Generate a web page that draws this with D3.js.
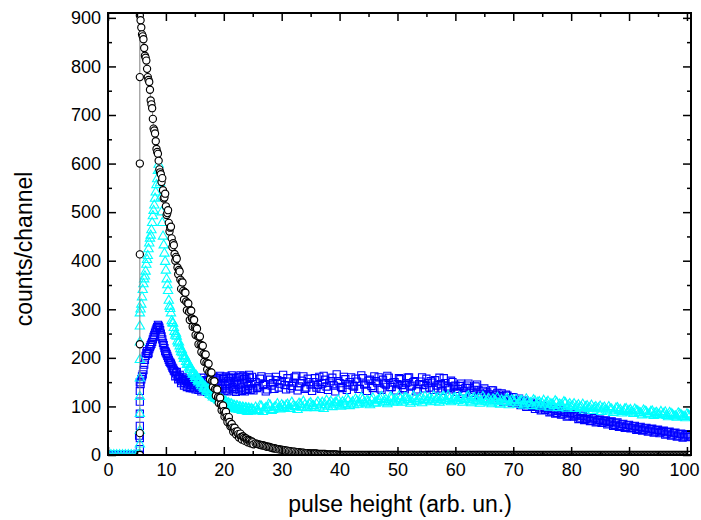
<!DOCTYPE html>
<html>
<head>
<meta charset="utf-8">
<script src="https://cdn.jsdelivr.net/npm/d3@7"></script>
<style>
  body { margin: 0; background: #fff; }
  svg { display: block; font-family: 'Liberation Sans', Arial, sans-serif; }
</style>
</head>
<body>
<svg width="701" height="520"></svg>
<script>
// pulse height spectra, three detectors

// channel positions (arb. un.)
var chLow = [0, 0.5, 1, 1.5, 2, 2.5, 3, 3.5, 4, 4.5, 5];
var chPeak = [5.25, 5.5, 5.75, 6, 6.25, 6.5, 6.75, 7, 7.25, 7.5, 7.75, 8, 8.25, 8.5, 8.75, 9,
  9.25, 9.5, 9.75, 10, 10.25, 10.5, 10.75, 11, 11.25, 11.5, 11.75, 12, 12.25, 12.5, 12.75, 13,
  13.25, 13.5, 13.75, 14, 14.25, 14.5, 14.75, 15, 15.25, 15.5, 15.75, 16, 16.25, 16.5, 16.75, 17,
  17.25, 17.5, 17.75, 18, 18.25, 18.5, 18.75, 19, 19.25, 19.5, 19.75, 20, 20.25, 20.5, 20.75, 21,
  21.25, 21.5, 21.75, 22, 22.25, 22.5, 22.75, 23, 23.25, 23.5, 23.75, 24, 24.25, 24.5, 24.75, 25];
var chPeakMid = [5.375, 5.625, 5.875, 6.125, 6.375, 6.625, 6.875, 7.125, 7.375, 7.625, 7.875, 8.125,
  8.375, 8.625, 8.875, 9.125, 9.375, 9.625, 9.875, 10.125, 10.375, 10.625, 10.875, 11.125,
  11.375, 11.625, 11.875, 12.125, 12.375, 12.625, 12.875, 13.125, 13.375, 13.625, 13.875, 14.125,
  14.375, 14.625, 14.875, 15.125, 15.375, 15.625, 15.875, 16.125, 16.375, 16.625, 16.875, 17.125,
  17.375, 17.625, 17.875, 18.125, 18.375, 18.625, 18.875, 19.125, 19.375, 19.625, 19.875, 20.125,
  20.375, 20.625, 20.875, 21.125, 21.375, 21.625, 21.875, 22.125, 22.375, 22.625, 22.875, 23.125,
  23.375, 23.625, 23.875, 24.125, 24.375, 24.625, 24.875, 25.125];
var chTail = [25.5, 26, 26.5, 27, 27.5, 28, 28.5, 29, 29.5, 30,
  30.5, 31, 31.5, 32, 32.5, 33, 33.5, 34, 34.5, 35,
  35.5, 36, 36.5, 37, 37.5, 38, 38.5, 39, 39.5, 40,
  40.5, 41, 41.5, 42, 42.5, 43, 43.5, 44, 44.5, 45,
  45.5, 46, 46.5, 47, 47.5, 48, 48.5, 49, 49.5, 50,
  50.5, 51, 51.5, 52, 52.5, 53, 53.5, 54, 54.5, 55,
  55.5, 56, 56.5, 57, 57.5, 58, 58.5, 59, 59.5, 60,
  60.5, 61, 61.5, 62, 62.5, 63, 63.5, 64, 64.5, 65,
  65.5, 66, 66.5, 67, 67.5, 68, 68.5, 69, 69.5, 70,
  70.5, 71, 71.5, 72, 72.5, 73, 73.5, 74, 74.5, 75,
  75.5, 76, 76.5, 77, 77.5, 78, 78.5, 79, 79.5, 80,
  80.5, 81, 81.5, 82, 82.5, 83, 83.5, 84, 84.5, 85,
  85.5, 86, 86.5, 87, 87.5, 88, 88.5, 89, 89.5, 90,
  90.5, 91, 91.5, 92, 92.5, 93, 93.5, 94, 94.5, 95,
  95.5, 96, 96.5, 97, 97.5, 98, 98.5, 99, 99.5, 100,
  100.5];
var chTailMid = [25.75, 26.25, 26.75, 27.25, 27.75, 28.25, 28.75, 29.25, 29.75, 30.25,
  30.75, 31.25, 31.75, 32.25, 32.75, 33.25, 33.75, 34.25, 34.75, 35.25,
  35.75, 36.25, 36.75, 37.25, 37.75, 38.25, 38.75, 39.25, 39.75, 40.25,
  40.75, 41.25, 41.75, 42.25, 42.75, 43.25, 43.75, 44.25, 44.75, 45.25,
  45.75, 46.25, 46.75, 47.25, 47.75, 48.25, 48.75, 49.25, 49.75, 50.25,
  50.75, 51.25, 51.75, 52.25, 52.75, 53.25, 53.75, 54.25, 54.75, 55.25,
  55.75, 56.25, 56.75, 57.25, 57.75, 58.25, 58.75, 59.25, 59.75, 60.25,
  60.75, 61.25, 61.75, 62.25, 62.75, 63.25, 63.75, 64.25, 64.75, 65.25,
  65.75, 66.25, 66.75, 67.25, 67.75, 68.25, 68.75, 69.25, 69.75, 70.25,
  70.75, 71.25, 71.75, 72.25, 72.75, 73.25, 73.75, 74.25, 74.75, 75.25,
  75.75, 76.25, 76.75, 77.25, 77.75, 78.25, 78.75, 79.25, 79.75, 80.25,
  80.75, 81.25, 81.75, 82.25, 82.75, 83.25, 83.75, 84.25, 84.75, 85.25,
  85.75, 86.25, 86.75, 87.25, 87.75, 88.25, 88.75, 89.25, 89.75, 90.25,
  90.75, 91.25, 91.75, 92.25, 92.75, 93.25, 93.75, 94.25, 94.75, 95.25,
  95.75, 96.25, 96.75, 97.25, 97.75, 98.25, 98.75, 99.25, 99.75, 100.25];

// the steep edge: several channels land on the same position
var riseChannel = 5.5;

// black circles
var blackLow = [null, null, null, null, null, null, null, null, null, null, null];
var blackRise = [0, 45, 228, 413, 600, 778];
var blackPeak = [null, 905, 880, 862,  838, 818, 795, 772,  752, 722, 692, 668,  646, 624, 606, 582,
  562, 545, 530, 512,  498, 478, 468, 446,  436, 414, 408, 386,  381, 361, 357, 338,
  335, 316, 313, 295,  298, 281, 279, 263,  262, 245, 243, 227,  225, 208, 206, 190,
  188, 171, 170, 153,  152, 136, 135, 119,  117, 104, 101, 90,  87, 78, 76, 68,
  62, 56, 54, 48,  47, 43, 41, 37,  38, 35, 34, 31,  30, 29, 27, 26];
var blackPeakMid = [null, 895, 866, 856,  822, 812, 778, 768,  730, 714, 672, 662,  630, 620, 588, 578,
  570, 528, 538, 494,  504, 460, 470, 428,  432, 400, 404, 372,  378, 342, 355, 320,
  334, 298, 312, 278,  297, 264, 278, 247,  260, 228, 244, 212,  225, 192, 207, 176,
  188, 156, 170, 140,  152, 122, 135, 107,  118, 92, 102, 79,  89, 68, 78, 59,
  64, 48, 56, 42,  49, 36, 44, 32,  38, 29, 34, 26,  31, 24, 28, 22];
var blackTail = [24, 22, 20, 19, 17, 16, 14, 13, 12, 11,
  10, 9, 8, 7, 6, 6, 5, 4, 4, 3,
  3, 3, 2, 2, 2, 1, 1, 1, 1, 0,
  0, 0, 0, 0, 0, 0, 0, 0, 0, 0,
  0, 0, 0, 0, 0, 0, 0, 0, 0, 0,
  0, 0, 0, 0, 0, 0, 0, 0, 0, 0,
  0, 0, 0, 0, 0, 0, 0, 0, 0, 0,
  0, 0, 0, 0, 0, 0, 0, 0, 0, 0,
  0, 0, 0, 0, 0, 0, 0, 0, 0, 0,
  0, 0, 0, 0, 0, 0, 0, 0, 0, 0,
  0, 0, 0, 0, 0, 0, 0, 0, 0, 0,
  0, 0, 0, 0, 0, 0, 0, 0, 0, 0,
  0, 0, 0, 0, 0, 0, 0, 0, 0, 0,
  0, 0, 0, 0, 0, 0, 0, 0, 0, 0,
  0, 0, 0, 0, 0, 0, 0, 0, 0, 0,
  0];
var blackTailMid = [23, 21, 20, 18, 17, 15, 14, 12, 11, 10,
  9, 8, 7, 7, 6, 5, 5, 4, 3, 3,
  3, 2, 2, 2, 1, 1, 1, 1, 0, 0,
  0, 0, 0, 0, 0, 0, 0, 0, 0, 0,
  0, 0, 0, 0, 0, 0, 0, 0, 0, 0,
  0, 0, 0, 0, 0, 0, 0, 0, 0, 0,
  0, 0, 0, 0, 0, 0, 0, 0, 0, 0,
  0, 0, 0, 0, 0, 0, 0, 0, 0, 0,
  0, 0, 0, 0, 0, 0, 0, 0, 0, 0,
  0, 0, 0, 0, 0, 0, 0, 0, 0, 0,
  0, 0, 0, 0, 0, 0, 0, 0, 0, 0,
  0, 0, 0, 0, 0, 0, 0, 0, 0, 0,
  0, 0, 0, 0, 0, 0, 0, 0, 0, 0,
  0, 0, 0, 0, 0, 0, 0, 0, 0, 0,
  0, 0, 0, 0, 0, 0, 0, 0, 0, 0];

// blue squares
var blueLow = [0, 0, 0, 0, 0, 0, 0, 0, 0, 0, 0];
var blueRise = [0, 12, 35, 60, 85, 110, 132];
var bluePeak = [0, 150, 156, 166,  186, 204, 214, 210,  222, 229, 238, 247,  256, 263, 266, 257,
  244, 231, 220, 211,  204, 196, 190, 184,  178, 172, 168, 163,  160, 157, 152, 155,
  148, 153, 146, 150,  144, 149, 141, 147,  152, 143, 138, 148,  141, 150, 136, 145,
  152, 139, 147, 134,  149, 142, 155, 138,  146, 151, 137, 156,  143, 135, 152, 147,
  158, 140, 149, 136,  153, 145, 160, 139,  148, 156, 134, 151,  142, 159, 146, 137];
var bluePeakMid = [40, 146, 162, 175,  196, 210, 208, 218,  226, 233, 243, 252,  260, 268, 262, 250,
  238, 226, 214, 208,  200, 192, 188, 180,  174, 162, 171, 156,  165, 148, 160, 143,
  157, 140, 155, 138,  156, 137, 153, 135,  158, 134, 152, 131,  159, 133, 154, 130,
  160, 132, 157, 136,  161, 134, 158, 131,  163, 135, 159, 132,  162, 131, 160, 137,
  164, 133, 158, 130,  161, 135, 164, 132,  163, 131, 160, 136,  165, 134, 161, 133];
var blueTail = [150, 141, 162, 146, 135, 155, 148, 161, 139, 152,
  144, 158, 137, 149, 163, 141, 153, 136, 157, 145,
  150, 139, 161, 147, 155, 134, 152, 143, 166, 148,
  138, 156, 145, 160, 141, 151, 136, 158, 147, 153,
  142, 162, 149, 137, 155, 145, 159, 140, 150, 146,
  156, 138, 148, 160, 143, 152, 135, 151, 144, 157,
  139, 149, 154, 137, 146, 158, 141, 135, 150, 143,
  136, 147, 131, 143, 138, 128, 141, 133, 126, 137,
  129, 121, 133, 124, 118, 127, 115, 122, 112, 119,
  109, 116, 106, 112, 102, 108, 99, 105, 96, 101,
  93, 98, 90, 95, 87, 92, 84, 89, 81, 86,
  79, 84, 76, 81, 74, 78, 71, 76, 69, 73,
  67, 71, 65, 69, 62, 67, 60, 64, 58, 62,
  56, 60, 54, 58, 52, 56, 50, 54, 48, 52,
  47, 50, 44, 48, 42, 46, 40, 44, 38, 43,
  40];
var blueTailMid = [138, 157, 144, 131, 160, 143, 136, 154, 147, 165,
  135, 151, 142, 160, 133, 148, 162, 139, 150, 132,
  158, 144, 136, 163, 141, 149, 159, 131, 152, 140,
  161, 134, 150, 143, 157, 136, 164, 145, 132, 155,
  138, 152, 160, 134, 147, 163, 140, 149, 133, 158,
  144, 135, 159, 141, 150, 131, 146, 160, 137, 148,
  152, 134, 143, 159, 132, 148, 138, 153, 141, 130,
  142, 126, 138, 147, 123, 134, 145, 121, 132, 124,
  125, 133, 114, 128, 121, 110, 124, 117, 108, 113,
  112, 103, 110, 99, 106, 101, 95, 103, 92, 98,
  96, 88, 94, 85, 91, 83, 88, 79, 86, 80,
  82, 74, 80, 72, 77, 70, 75, 67, 72, 66,
  70, 63, 68, 60, 65, 58, 63, 56, 61, 55,
  59, 52, 57, 50, 55, 48, 53, 46, 51, 45,
  49, 42, 47, 40, 45, 38, 43, 36, 41, 37];

// cyan triangles
var cyanLow = [0, 0, 0, 0, 0, 0, 0, 0, 0, 0, 0];
var cyanRise = [0, 22, 50, 85, 120, 158, 196, 232, 265, 292];
var cyanPeak = [0, 0, 310, 340,  362, 378, 402, 424,  446, 463, 492, 514,  541, 568, 598, 560,
  500, 450, 415, 380,  350, 318, 301, 276,  271, 254, 250, 234,  232, 218, 216, 204,
  203, 192, 191, 180,  181, 170, 170, 161,  163, 153, 155, 146,  148, 139, 141, 133,
  136, 127, 130, 122,  126, 118, 121, 114,  118, 110, 114, 107,  111, 104, 107, 101,
  105, 98, 102, 96,  101, 94, 99, 93,  98, 92, 97, 90,  96, 91, 95, 90];
var cyanPeakMid = [0, 300, 325, 352,  368, 392, 410, 436,  452, 478, 503, 528,  556, 585, 585, 530,
  478, 432, 398, 362,  338, 306, 292, 272,  262, 246, 244, 230,  224, 212, 210, 198,
  199, 186, 187, 176,  176, 166, 166, 157,  160, 150, 152, 142,  146, 136, 138, 130,
  134, 124, 128, 119,  124, 116, 120, 112,  116, 108, 112, 104,  109, 102, 106, 99,
  104, 97, 101, 94,  100, 93, 98, 91,  97, 91, 96, 89,  95, 90, 94, 92];
var cyanTail = [98, 91, 100, 94, 97, 102, 93, 99, 96, 103,
  97, 104, 95, 101, 99, 106, 98, 103, 100, 107,
  101, 105, 98, 108, 103, 100, 110, 104, 107, 102,
  109, 104, 112, 106, 103, 111, 107, 114, 105, 110,
  113, 107, 111, 116, 108, 114, 110, 117, 112, 109,
  115, 111, 118, 113, 109, 116, 112, 119, 114, 111,
  117, 113, 110, 118, 114, 120, 112, 116, 113, 118,
  111, 116, 113, 119, 110, 115, 112, 117, 109, 114,
  112, 108, 115, 110, 106, 113, 109, 116, 107, 111,
  114, 108, 112, 105, 110, 107, 113, 104, 109, 106,
  103, 110, 105, 101, 108, 104, 100, 107, 102, 99,
  105, 100, 97, 104, 99, 95, 102, 97, 94, 100,
  96, 92, 99, 94, 90, 97, 93, 89, 95, 91,
  88, 94, 90, 86, 92, 88, 84, 90, 86, 83,
  89, 85, 81, 87, 83, 80, 86, 82, 79, 84,
  80];
var cyanTailMid = [93, 101, 89, 97, 104, 91, 98, 105, 94, 100,
  102, 95, 108, 99, 93, 104, 110, 97, 105, 101,
  97, 109, 103, 95, 112, 106, 99, 108, 113, 100,
  105, 116, 101, 109, 115, 104, 118, 108, 112, 103,
  117, 106, 113, 120, 110, 105, 119, 108, 115, 121,
  108, 118, 114, 106, 121, 110, 115, 107, 120, 113,
  109, 121, 115, 108, 119, 111, 122, 109, 117, 112,
  119, 108, 114, 121, 107, 118, 112, 106, 120, 110,
  116, 105, 112, 118, 104, 110, 115, 103, 113, 108,
  104, 111, 102, 115, 106, 101, 111, 108, 100, 112,
  107, 98, 104, 111, 97, 103, 109, 96, 105, 101,
  95, 103, 99, 92, 101, 97, 91, 99, 96, 89,
  98, 90, 94, 87, 96, 91, 86, 94, 88, 93,
  85, 91, 87, 82, 90, 84, 89, 81, 87, 83,
  82, 88, 78, 85, 80, 77, 84, 79, 76, 82];

var xMajor = [0, 10, 20, 30, 40, 50, 60, 70, 80, 90, 100];
var xMinor = [5, 15, 25, 35, 45, 55, 65, 75, 85, 95];
var yMajor = [0, 100, 200, 300, 400, 500, 600, 700, 800, 900];
var yMinor = [50, 150, 250, 350, 450, 550, 650, 750, 850];

function buildSeries(low, rise, peak, peakMid, tail, tailMid) {
  var pts = [];
  low.forEach(function(v, i) { if (v !== null) pts.push([chLow[i], v]); });
  peak.forEach(function(v, i) {
    if (chPeak[i] === riseChannel) rise.forEach(function(r) { pts.push([riseChannel, r]); });
    if (v !== null) pts.push([chPeak[i], v]);
    if (peakMid[i] !== null && peakMid[i] !== undefined) pts.push([chPeakMid[i], peakMid[i]]);
  });
  tail.forEach(function(v, i) {
    pts.push([chTail[i], v]);
    if (i < tailMid.length) pts.push([chTailMid[i], tailMid[i]]);
  });
  return pts;
}

var black = buildSeries(blackLow, blackRise, blackPeak, blackPeakMid, blackTail, blackTailMid),
    blue = buildSeries(blueLow, blueRise, bluePeak, bluePeakMid, blueTail, blueTailMid),
    cyan = buildSeries(cyanLow, cyanRise, cyanPeak, cyanPeakMid, cyanTail, cyanTailMid);

var svg = d3.select('svg'),
    plotL = 108, plotR = 691, plotT = 13, plotB = 455;

var x = d3.scaleLinear().domain([0, 100.7]).range([plotL, plotR]);
var y = d3.scaleLinear().domain([0, 910]).range([plotB, plotT]);

svg.append('clipPath').attr('id', 'plot')
  .append('rect')
    .attr('x', plotL).attr('y', plotT)
    .attr('width', plotR - plotL).attr('height', plotB - plotT);

var g = svg.append('g').attr('clip-path', 'url(#plot)');

// blue squares
g.append('g').selectAll('path')
  .data(blue)
  .enter().append('path')
    .attr('d', d3.symbol().type(d3.symbolSquare).size(52))
    .attr('transform', function(d) { return 'translate(' + x(d[0]) + ',' + y(d[1]) + ')'; })
    .attr('fill', 'none')
    .attr('stroke', '#0000ff')
    .attr('stroke-width', 1.1);

// cyan triangles
g.append('g').selectAll('path')
  .data(cyan)
  .enter().append('path')
    .attr('d', d3.symbol().type(d3.symbolTriangle).size(38))
    .attr('transform', function(d) { return 'translate(' + x(d[0]) + ',' + y(d[1]) + ')'; })
    .attr('fill', 'none')
    .attr('stroke', '#00ffff')
    .attr('stroke-width', 1.1);

// black circles joined by a thin grey line
g.append('path')
    .datum(black)
    .attr('fill', 'none')
    .attr('stroke', '#808080')
    .attr('stroke-width', 1)
    .attr('d', d3.line().x(function(d) { return x(d[0]); }).y(function(d) { return y(d[1]); }));

g.append('g').selectAll('circle')
  .data(black)
  .enter().append('circle')
    .attr('cx', function(d) { return x(d[0]); })
    .attr('cy', function(d) { return y(d[1]); })
    .attr('r', 3.6)
    .attr('fill', '#fff')
    .attr('stroke', '#000')
    .attr('stroke-width', 1.15);

// axes: ticks point inward on all four sides
function tidy(sel) {
  sel.select('.domain').remove();
  sel.selectAll('line').attr('stroke', '#000').attr('stroke-width', 1.5);
  sel.selectAll('text').attr('font-size', 18).attr('font-family', "'Liberation Sans', Arial, sans-serif").attr('fill', '#000');
}

svg.append('g').attr('transform', 'translate(0,' + plotB + ')')
    .call(d3.axisBottom(x).tickValues(xMajor).tickSize(-8).tickPadding(8).tickFormat(d3.format('d')))
    .call(tidy)
    .selectAll('text').filter(function(d) { return d === 100; }).attr('dx', -3);
svg.append('g').attr('transform', 'translate(0,' + plotB + ')')
    .call(d3.axisBottom(x).tickValues(xMinor).tickSize(-4).tickFormat(''))
    .call(tidy);
svg.append('g').attr('transform', 'translate(0,' + plotT + ')')
    .call(d3.axisTop(x).tickValues(xMajor).tickSize(-8).tickFormat(''))
    .call(tidy);
svg.append('g').attr('transform', 'translate(0,' + plotT + ')')
    .call(d3.axisTop(x).tickValues(xMinor).tickSize(-4).tickFormat(''))
    .call(tidy);

svg.append('g').attr('transform', 'translate(' + plotL + ',0)')
    .call(d3.axisLeft(y).tickValues(yMajor).tickSize(-8).tickPadding(7))
    .call(tidy);
svg.append('g').attr('transform', 'translate(' + plotL + ',0)')
    .call(d3.axisLeft(y).tickValues(yMinor).tickSize(-4).tickFormat(''))
    .call(tidy);
svg.append('g').attr('transform', 'translate(' + plotR + ',0)')
    .call(d3.axisRight(y).tickValues(yMajor).tickSize(-8).tickFormat(''))
    .call(tidy);
svg.append('g').attr('transform', 'translate(' + plotR + ',0)')
    .call(d3.axisRight(y).tickValues(yMinor).tickSize(-4).tickFormat(''))
    .call(tidy);

svg.append('rect')
    .attr('x', plotL).attr('y', plotT)
    .attr('width', plotR - plotL).attr('height', plotB - plotT)
    .attr('fill', 'none')
    .attr('stroke', '#000')
    .attr('stroke-width', 2);

svg.append('text')
    .attr('x', 400)
    .attr('y', 512)
    .attr('text-anchor', 'middle')
    .attr('font-size', 23)
    .text('pulse height (arb. un.)');

svg.append('text')
    .attr('transform', 'translate(32,249) rotate(-90)')
    .attr('text-anchor', 'middle')
    .attr('font-size', 23)
    .text('counts/channel');
</script>
</body>
</html>
